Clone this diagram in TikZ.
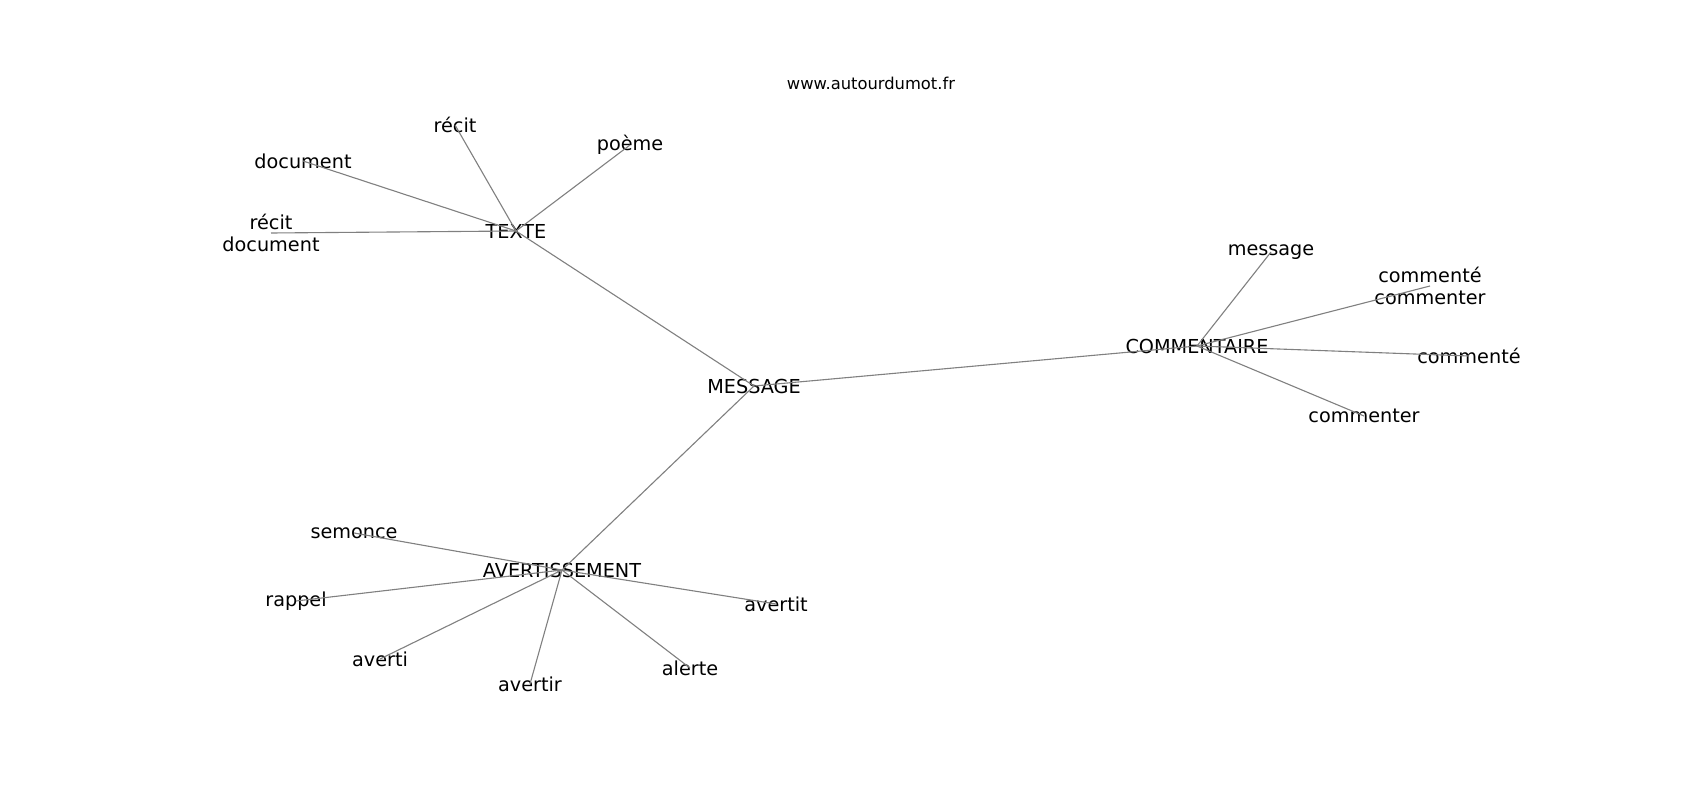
\documentclass[tikz,border=0pt]{standalone}
\usepackage{fontspec}
\setmainfont{DejaVu Sans}

\begin{document}
\begin{tikzpicture}[x=0.01in, y=-0.01in, main/.style = {font=\fontsize{13.9}{15.4}\selectfont, align=center, inner sep=0pt}, line/.style = {draw=gray, line width=0.8pt}]
	\useasboundingbox (0,0) rectangle (1700,800);
	\node[font=\fontsize{11.8}{14}\selectfont] (0) at (871,83) {www.autourdumot.fr};
	% hubs
	\node[main] (1) at (754,386) {MESSAGE};
	\node[main] (2) at (516,231) {TEXTE};
	\node[main] (3) at (1197,346) {COMMENTAIRE};
	\node[main] (4) at (562,570) {AVERTISSEMENT};
	% TEXTE
	\node[main] (5) at (455,125) {récit};
	\node[main] (6) at (630,145) {poème};
	\node[main] (7) at (303,161) {document};
	\node[main] (8) at (271,233) {récit\\document};
	% COMMENTAIRE
	\node[main] (9) at (1271,252) {message};
	\node[main] (10) at (1430,286) {commenté\\commenter};
	\node[main] (11) at (1469,356) {commenté};
	\node[main] (12) at (1364,416) {commenter};
	% AVERTISSEMENT
	\node[main] (13) at (354,533) {semonce};
	\node[main] (14) at (296,601) {rappel};
	\node[main] (15) at (380,659) {averti};
	\node[main] (16) at (530,684) {avertir};
	\node[main] (17) at (690,668) {alerte};
	\node[main] (18) at (776,604) {avertit};
	\foreach \a/\b in {1/2, 1/3, 1/4, 2/5, 2/6, 2/7, 2/8, 3/9, 3/10, 3/11, 3/12, 4/13, 4/14, 4/15, 4/16, 4/17, 4/18}
		\draw[line] (\a.center) -- (\b.center);
	
	\end{tikzpicture}
\end{document}
